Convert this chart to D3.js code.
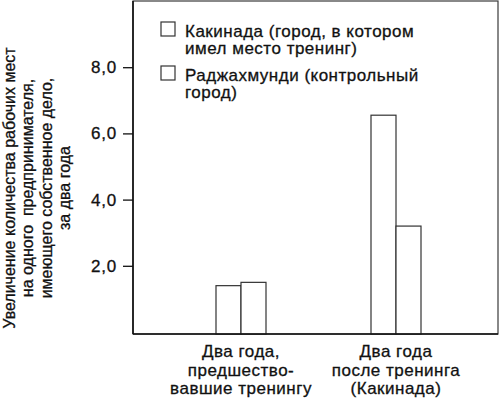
<!DOCTYPE html>
<html>
<head>
<meta charset="utf-8">
<script src="https://cdn.jsdelivr.net/npm/d3@7"></script>
<style>
  body { margin: 0; background: #fff; }
  svg { display: block; font-family: "Liberation Sans", Arial, sans-serif; }
  text { fill: #111; stroke: #111; stroke-width: 0.3px; }
</style>
</head>
<body>
<div id="root"></div>
<script>
// data
const categories = ["before", "after"];
const categoryLabels = [
  ["Два года,", "предшество-", "вавшие тренингу"],
  ["Два года", "после тренинга", "(Какинада)"]
];
const series = ["Какинада", "Раджахмунди"];
const kakinada = [1.4, 6.55];
const rajahmundry = [1.5, 3.2];
const yTicks = [2, 4, 6, 8];
const legendLabels = [
  ["Какинада (город, в котором", "имел место тренинг)"],
  ["Раджахмунди (контрольный", "город)"]
];
const yTitle = [
  "Увеличение количества рабочих мест",
  "на одного  предпринимателя,",
  "имеющего собственное дело,",
  "за два года"
];

const values = series.map((s, i) => (i === 0 ? kakinada : rajahmundry));

var svg = d3
    .select("#root")
    .append("svg")
    .attr("width", 500)
    .attr("height", 398),
  margin = { top: 1, right: 2, bottom: 64, left: 133 },
  width = +svg.attr("width") - margin.left - margin.right,
  height = +svg.attr("height") - margin.top - margin.bottom,
  g = svg
    .append("g")
    .attr("transform", `translate(${margin.left},${margin.top})`);

var y = d3.scaleLinear().domain([0, 10]).range([height - 2, 0]);

var x0 = d3.scaleBand().domain(categories).range([30.5, 340.5]);
var x1 = d3
  .scaleBand()
  .domain(series)
  .range([0, x0.bandwidth()])
  .paddingInner(0)
  .paddingOuter(2.1);

// frame (top and right are lighter, as in the scan)
g.append("rect")
  .attr("width", width)
  .attr("height", height)
  .attr("fill", "none")
  .attr("stroke", "#3a3a3a")
  .attr("stroke-width", 1.2);

// bars
const groups = g
  .selectAll(".group")
  .data(categories)
  .join("g")
  .attr("class", "group")
  .attr("transform", (d) => `translate(${x0(d)},0)`);

groups
  .selectAll("rect")
  .data((d, ci) => series.map((s, si) => ({ s, v: values[si][ci] })))
  .join("rect")
  .attr("x", (d) => x1(d.s))
  .attr("y", (d) => y(d.v))
  .attr("width", x1.bandwidth())
  .attr("height", (d) => height - y(d.v))
  .attr("fill", "#fff")
  .attr("stroke", "#333")
  .attr("stroke-width", 1.2);

// axes lines (darker)
g.append("line")
  .attr("x1", 0).attr("x2", 0)
  .attr("y1", 0).attr("y2", height)
  .attr("stroke", "#111").attr("stroke-width", 1.6);
g.append("line")
  .attr("x1", 0).attr("x2", width)
  .attr("y1", height).attr("y2", height)
  .attr("stroke", "#111").attr("stroke-width", 1.6);

const yAxis = g
  .append("g")
  .call(
    d3
      .axisLeft(y)
      .tickValues(yTicks)
      .tickSize(10)
      .tickPadding(6)
      .tickFormat((d) => d.toFixed(1).replace(".", ","))
  );
yAxis.select(".domain").remove();
yAxis.selectAll(".tick line").attr("stroke", "#111").attr("stroke-width", 1.3);
yAxis
  .selectAll(".tick text")
  .attr("font-size", 17)
  .attr("letter-spacing", 0.8)
  .attr("font-family", "Liberation Sans, Arial, sans-serif")
  .attr("fill", "#111");

// category labels
groups
  .append("text")
  .attr("text-anchor", "middle")
  .attr("font-size", 17)
  .attr("letter-spacing", 0.5)
  .attr("x", x0.bandwidth() / 2)
  .attr("y", height + 23)
  .selectAll("tspan")
  .data((d, i) => categoryLabels[i])
  .join("tspan")
  .attr("x", x0.bandwidth() / 2)
  .attr("dy", (d, i) => (i === 0 ? 0 : 18.5))
  .text((d) => d);

// legend
const legend = g
  .selectAll(".legend")
  .data(series)
  .join("g")
  .attr("class", "legend")
  .attr("transform", (d, i) => `translate(28,${21 + i * 44})`);

legend
  .append("rect")
  .attr("width", 14)
  .attr("height", 14)
  .attr("fill", "#fff")
  .attr("stroke", "#333")
  .attr("stroke-width", 1.2);

legend
  .append("text")
  .attr("font-size", 17)
  .attr("letter-spacing", 0.5)
  .attr("x", 24)
  .attr("y", 14.5)
  .selectAll("tspan")
  .data((d, i) => legendLabels[i])
  .join("tspan")
  .attr("x", 24)
  .attr("dy", (d, i) => (i === 0 ? 0 : 17.5))
  .text((d) => d);

// y title
svg
  .append("text")
  .attr("transform", "translate(15,188) rotate(-90)")
  .attr("text-anchor", "middle")
  .attr("font-size", 16)
  .style("white-space", "pre")
  .selectAll("tspan")
  .data(yTitle)
  .join("tspan")
  .attr("x", 0)
  .attr("dy", (d, i) => (i === 0 ? 0 : 18.4))
  .text((d) => d);
</script>
</body>
</html>
